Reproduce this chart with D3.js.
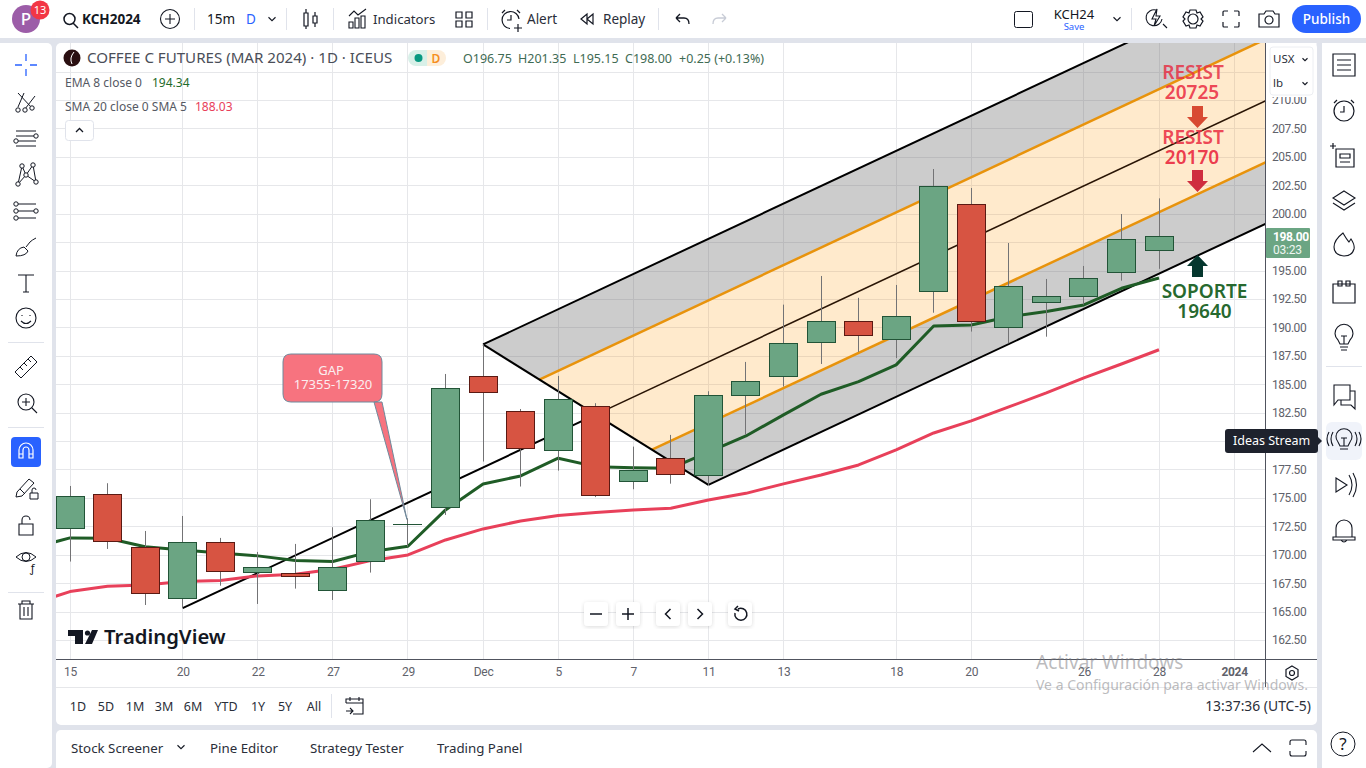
<!DOCTYPE html>
<html lang="en">

<head>
	<meta charset="utf-8">
	<title>KCH2024 - Coffee C Futures</title>
	<script src="https://cdn.jsdelivr.net/npm/d3@7"></script>
	<style>
		html, body { margin: 0; padding: 0; background: #e0e3eb; overflow: hidden; }
		text { font-family: "Noto Sans", sans-serif; }
	</style>
</head>

<body>
	<script type="text/javascript">

		// Daily candles
		const openP = [172.33, 175.32, 170.66, 166.18, 171.1, 168.55, 168.37, 166.96, 169.43, 172.68, 174.19, 185.73, 182.62, 179.2, 183.06, 176.47, 178.49, 177.0, 184.03, 185.71, 188.74, 190.56, 188.98, 193.14, 200.83, 190.0, 192.2, 192.7, 194.85, 196.75];
		const highP = [176.05, 176.29, 172.09, 173.41, 171.48, 170.25, 170.95, 172.42, 174.88, 173.2, 185.9, 188.5, 182.82, 185.73, 183.33, 179.51, 180.54, 184.38, 186.96, 192.0, 194.52, 192.6, 193.73, 203.93, 202.26, 197.42, 194.26, 195.4, 199.97, 201.35];
		const lowP = [169.4, 170.51, 165.58, 165.32, 167.28, 165.67, 167.02, 166.02, 168.43, 170.72, 173.5, 178.2, 176.0, 177.4, 175.07, 175.76, 176.25, 176.14, 180.54, 184.8, 186.78, 187.84, 187.3, 191.29, 189.63, 188.6, 189.18, 192.0, 194.11, 195.15];
		const closeP = [175.15, 171.15, 166.62, 171.1, 168.55, 168.95, 168.08, 168.95, 173.03, 172.68, 184.64, 184.3, 179.38, 183.68, 175.24, 177.43, 177.09, 184.03, 185.26, 188.6, 190.56, 189.33, 191.0, 202.41, 190.5, 193.61, 192.74, 194.32, 197.75, 198.0];

		// Moving averages, the first value belongs to the day before the left edge
		const ema8 = [170.6, 171.48, 171.45, 170.7, 170.42, 170.15, 169.9, 169.5, 169.4, 170.27, 170.75, 173.94, 176.23, 176.93, 178.49, 177.75, 177.66, 177.6, 179.02, 180.45, 182.3, 184.12, 185.23, 186.7, 190.12, 190.21, 190.94, 191.39, 191.97, 193.44, 194.34];
		const sma20 = [165.7, 166.76, 167.23, 167.34, 167.64, 167.73, 168.14, 168.29, 168.72, 169.48, 169.98, 171.3, 172.27, 172.97, 173.46, 173.71, 173.94, 174.09, 174.82, 175.4, 176.23, 177.02, 177.9, 179.22, 180.71, 181.77, 183.0, 184.23, 185.55, 186.78, 188.03];

		// Pitchfork anchors: day index and price
		const forkIdx = [3, 11, 17];
		const forkPrice = [165.3, 188.5, 176.15];
		const forkLevels = [0, 0.25, 0.5, 0.75, 1];

		const priceTicks = [162.5, 165, 167.5, 170, 172.5, 175, 177.5, 180, 182.5, 185, 187.5, 190, 192.5, 195, 197.5, 200, 202.5, 205, 207.5, 210, 212.5];
		// 180.00 sits under the tooltip and 197.50 under the price tag, 212.50 under the unit box
		const priceLabels = [162.5, 165, 167.5, 170, 172.5, 175, 177.5, 182.5, 185, 187.5, 190, 192.5, 195, 200, 202.5, 205, 207.5, 210];
		const dateIdx = [0, 3, 5, 7, 9, 11, 13, 15, 17, 19, 22, 24, 27, 29, 31];
		const dateLabels = ["15", "20", "22", "27", "29", "Dec", "5", "7", "11", "13", "18", "20", "26", "28", "2024"];

		const rangeButtons = ["1D", "5D", "1M", "3M", "6M", "YTD", "1Y", "5Y", "All"];
		const rangeX = [78, 106, 135, 164, 193, 226, 258, 285, 314];
		const ohlcLabels = ["O196.75", "H201.35", "L195.15", "C198.00", "+0.25 (+0.13%)"];
		const ohlcX = [463, 518, 573, 625, 679];
		const panelTabs = ["Stock Screener", "Pine Editor", "Strategy Tester", "Trading Panel"];
		const panelX = [71, 210, 310, 437];

		const ink = "#131722";
		const w = 1366;
		const h = 768;

		const svg = d3.select("body").append("svg")
			.attr("width", w)
			.attr("height", h)
			.style("display", "block");

		const x = d3.scaleLinear().domain([0, 29]).range([70, 1159]);
		const y = d3.scaleLinear().domain([162.5, 210]).range([640, 100]);
		const xSnap = i => Math.floor(x(i));

		// Panels
		function panel(px, py, pw, ph, r) {
			svg.append("rect").attr("x", px).attr("y", py).attr("width", pw).attr("height", ph)
				.attr("rx", r || 0).attr("fill", "#fff");
		}
		panel(0, 0, w, 38);
		panel(-6, 43, 58, 725, 5);
		panel(56, 43, 1261, 682, 5);
		panel(56, 730, 1261, 44, 5);
		panel(1322, 43, 50, 725);

		// Plot area
		svg.append("clipPath").attr("id", "plot").append("rect")
			.attr("x", 56).attr("y", 43).attr("width", 1210).attr("height", 616);
		const plot = svg.append("g").attr("clip-path", "url(#plot)");

		// Grid
		plot.selectAll("line.hgrid").data(priceTicks).enter().append("line")
			.attr("class", "hgrid")
			.attr("x1", 56).attr("x2", 1266)
			.attr("y1", d => Math.round(y(d)) + 0.5).attr("y2", d => Math.round(y(d)) + 0.5)
			.attr("stroke", "#e6e7ea");
		plot.selectAll("line.vgrid").data(dateIdx).enter().append("line")
			.attr("class", "vgrid")
			.attr("x1", d => xSnap(d) + 0.5).attr("x2", d => xSnap(d) + 0.5)
			.attr("y1", 43).attr("y2", 659)
			.attr("stroke", "#e6e7ea");

		// Pitchfork
		const midIdx = (forkIdx[1] + forkIdx[2]) / 2;
		const midPrice = (forkPrice[1] + forkPrice[2]) / 2;
		const forkSlope = (midPrice - forkPrice[0]) / (midIdx - forkIdx[0]);
		const farIdx = 42;
		const forkStart = forkLevels.map(t => [
			forkIdx[1] + (forkIdx[2] - forkIdx[1]) * t,
			forkPrice[1] + (forkPrice[2] - forkPrice[1]) * t
		]);
		const forkEnd = forkStart.map(p => [farIdx, p[1] + forkSlope * (farIdx - p[0])]);
		const toPx = p => [x(p[0]), y(p[1])];
		const bandFill = ["rgba(90,90,90,0.31)", "rgba(255,152,0,0.2)", "rgba(255,152,0,0.2)", "rgba(90,90,90,0.31)"];

		d3.range(4).forEach(i => {
			plot.append("polygon")
				.attr("points", [forkStart[i], forkEnd[i], forkEnd[i + 1], forkStart[i + 1]].map(toPx).join(" "))
				.attr("fill", bandFill[i]);
		});

		const segment = d3.line().x(d => x(d[0])).y(d => y(d[1]));
		const forkColor = ["#000", "#e8930c", "#2a1505", "#e8930c", "#000"];
		const forkWidth = [2, 2.5, 1.6, 2.5, 2];
		forkLevels.forEach((t, i) => {
			plot.append("path").attr("d", segment([forkStart[i], forkEnd[i]]))
				.attr("fill", "none").attr("stroke", forkColor[i]).attr("stroke-width", forkWidth[i]);
		});
		plot.append("path").attr("d", segment([[forkIdx[0], forkPrice[0]], forkStart[2]]))
			.attr("fill", "none").attr("stroke", "#000").attr("stroke-width", 2);
		plot.append("path").attr("d", segment([forkStart[0], forkStart[4]]))
			.attr("fill", "none").attr("stroke", "#000").attr("stroke-width", 2);

		// Moving averages
		const maLine = d3.line().x((d, i) => x(i - 1)).y(d => y(d));
		plot.append("path").attr("d", maLine(sma20))
			.attr("fill", "none").attr("stroke", "#e8405a").attr("stroke-width", 3).attr("stroke-linejoin", "round");
		plot.append("path").attr("d", maLine(ema8))
			.attr("fill", "none").attr("stroke", "#1f5c26").attr("stroke-width", 3).attr("stroke-linejoin", "round");

		// Candles
		const candles = openP.map((o, i) => ({ i: i, o: o, h: highP[i], l: lowP[i], c: closeP[i] }));
		const isUp = d => d.c >= d.o;

		plot.selectAll("line.wick").data(candles).enter().append("line")
			.attr("class", "wick")
			.attr("x1", d => xSnap(d.i) + 0.5).attr("x2", d => xSnap(d.i) + 0.5)
			.attr("y1", d => y(d.h)).attr("y2", d => y(d.l))
			.attr("stroke", "#737375");

		plot.selectAll("rect.body").data(candles.filter(d => d.o !== d.c)).enter().append("rect")
			.attr("class", "body")
			.attr("x", d => xSnap(d.i) - 13.5)
			.attr("width", 28)
			.attr("y", d => Math.round(y(Math.max(d.o, d.c))) + 0.5)
			.attr("height", d => Math.max(2, Math.round(y(Math.min(d.o, d.c)) - y(Math.max(d.o, d.c)))))
			.attr("fill", d => isUp(d) ? "#6ba583" : "#d75442")
			.attr("stroke", d => isUp(d) ? "#225437" : "#5b1a13")
			.attr("stroke-width", 1);

		// Doji with no body
		plot.selectAll("line.doji").data(candles.filter(d => d.o === d.c)).enter().append("line")
			.attr("class", "doji")
			.attr("x1", d => xSnap(d.i) - 14).attr("x2", d => xSnap(d.i) + 15)
			.attr("y1", d => Math.round(y(d.c)) + 0.5).attr("y2", d => Math.round(y(d.c)) + 0.5)
			.attr("stroke", "#225437");

		// GAP callout
		const gapTip = [x(9) - 1, y(173.1)];
		svg.append("path")
			.attr("d", `M291,354 H374 Q382,354 382,362 V394 Q382,402 374,402 L382,402 L${gapTip[0]},${gapTip[1]} L374,402 H291 Q283,402 283,394 V362 Q283,354 291,354 Z`)
			.attr("fill", "#f7737f").attr("stroke", "#6f8a9c").attr("stroke-width", 1);
		svg.append("text").attr("x", 331).attr("y", 375).attr("text-anchor", "middle")
			.attr("font-size", 13).attr("fill", "#fbeef0").text("GAP");
		svg.append("text").attr("x", 333).attr("y", 389).attr("text-anchor", "middle")
			.attr("font-size", 13).attr("fill", "#fbeef0").text("17355-17320");

		// Resistance and support notes
		function note(tx, ty, txt, color) {
			svg.append("text").attr("x", tx).attr("y", ty).attr("text-anchor", "middle")
				.attr("font-size", 19).attr("font-weight", 600).attr("fill", color).text(txt);
		}
		note(1193, 79, "RESIST", "rgba(230,50,70,0.86)");
		note(1192, 99, "20725", "rgba(235,50,70,0.9)");
		note(1193, 144, "RESIST", "rgba(235,50,70,0.9)");
		note(1192, 164, "20170", "rgba(235,50,70,0.95)");
		note(1204.5, 298, "SOPORTE", "#27692f");
		note(1204.5, 318, "19640", "#27692f");

		function arrow(cx, tipY, dir, color) {
			const len = 22, head = 11;
			svg.append("path")
				.attr("d", `M${cx},${tipY} L${cx + 10.5},${tipY - dir * head} H${cx + 5.5} V${tipY - dir * len} H${cx - 5.5} V${tipY - dir * head} H${cx - 10.5} Z`)
				.attr("fill", color);
		}
		arrow(1197.5, 128, 1, "#d84a32");
		arrow(1197.5, 192, 1, "#cf2e3f");
		arrow(1197.5, 255, -1, "#05372e");

		// TradingView logo
		svg.append("path").attr("d", "M68,630 H83 V644 H75 V636 H68 Z M92,630 H98 L92,644 H85 Z").attr("fill", ink);
		svg.append("circle").attr("cx", 87.5).attr("cy", 633).attr("r", 2.6).attr("fill", ink);
		svg.append("text").attr("x", 104).attr("y", 644).attr("font-size", 20.3).attr("font-weight", 600).attr("fill", ink).text("TradingView");

		// Zoom buttons under the plot
		const navX = [596, 628, 668, 700, 740];
		const navIcon = ["M-6,0 H6", "M-6,0 H6 M0,-6 V6", "M2.5,-5 L-2.5,0 L2.5,5", "M-2.5,-5 L2.5,0 L-2.5,5", "M-2,-6 A6,6 0 1 1 -5,-2 M-2,-9 L-5,-6 L-1,-4"];
		svg.append("filter").attr("id", "soft").append("feDropShadow")
			.attr("dx", 0).attr("dy", 1).attr("stdDeviation", 2).attr("flood-opacity", 0.14);
		navX.forEach((nx, i) => {
			svg.append("rect").attr("x", nx - 12).attr("y", 602).attr("width", 24).attr("height", 24).attr("rx", 4)
				.attr("fill", "#fff").attr("filter", "url(#soft)");
			svg.append("path").attr("d", navIcon[i]).attr("transform", `translate(${nx},${i === 4 ? 615 : 614})`)
				.attr("fill", "none").attr("stroke", ink).attr("stroke-width", 1.5);
		});

		// Price axis
		const yAxis = svg.append("g").attr("transform", "translate(1265.5,0)")
			.call(d3.axisRight(y).tickValues(priceLabels).tickFormat(d3.format(".2f")).tickSize(0).tickPadding(6.5));
		yAxis.select(".domain").remove();
		yAxis.selectAll("text").attr("font-size", 12).attr("fill", "#5f626b")
			.style("font-family", "Roboto").style("letter-spacing", "-0.45px");
		svg.append("line").attr("x1", 1265.5).attr("x2", 1265.5).attr("y1", 43).attr("y2", 687).attr("stroke", "#50535e");
		svg.append("line").attr("x1", 56).attr("x2", 1317).attr("y1", 659.5).attr("y2", 659.5).attr("stroke", "#50535e");

		// Time axis
		const xAxis = svg.append("g").attr("transform", "translate(0,659)")
			.call(d3.axisBottom(x).tickValues(dateIdx).tickFormat(d => dateLabels[dateIdx.indexOf(d)]).tickSize(0).tickPadding(8));
		xAxis.select(".domain").remove();
		xAxis.selectAll("text").attr("font-size", 12).attr("fill", "#5f626b")
			.style("font-family", "Roboto").style("letter-spacing", "-0.3px")
			.attr("font-weight", d => d === 31 ? 700 : 400);

		// Last price tag
		svg.append("rect").attr("x", 1266).attr("y", 228).attr("width", 44).attr("height", 30).attr("rx", 1).attr("fill", "#6ba583");
		svg.append("text").attr("x", 1273).attr("y", 241).attr("font-size", 12).attr("font-weight", 700).attr("fill", "#fff")
			.style("font-family", "Roboto").style("letter-spacing", "-0.35px").text(closeP[29].toFixed(2));
		svg.append("text").attr("x", 1273).attr("y", 254).attr("font-size", 12).attr("fill", "#eef6f1")
			.style("font-family", "Roboto").style("letter-spacing", "-0.2px").text("03:23");

		// Unit box over the axis, it cuts the top of the 210.00 label
		svg.append("rect").attr("x", 1266.5).attr("y", 43).attr("width", 50).attr("height", 54).attr("fill", "#fff");
		svg.append("rect").attr("x", 1270).attr("y", 47).attr("width", 43).attr("height", 48).attr("rx", 3)
			.attr("fill", "#fff").attr("stroke", "#eceef2");
		svg.append("text").attr("x", 1273).attr("y", 63).attr("font-size", 11.5).attr("fill", "#2a2e39").text("USX");
		svg.append("text").attr("x", 1273).attr("y", 87).attr("font-size", 11.5).attr("fill", "#2a2e39").text("lb");
		function chevron(cx, cy, s, color) {
			svg.append("path").attr("d", `M${cx - s},${cy - s / 2} L${cx},${cy + s / 2} L${cx + s},${cy - s / 2}`)
				.attr("fill", "none").attr("stroke", color || ink).attr("stroke-width", 1.1);
		}
		chevron(1305, 59.5, 2.5);
		chevron(1305, 83.5, 2.5);

		// Chart legend
		svg.append("circle").attr("cx", 72).attr("cy", 58).attr("r", 8.5).attr("fill", "#2a0f11");
		svg.append("path").attr("d", "M74,52 Q69,58 72,64").attr("fill", "none").attr("stroke", "#fff").attr("stroke-width", 1);
		svg.append("text").attr("x", 87).attr("y", 63).attr("font-size", 15.1).attr("fill", "#4a4e58")
			.text("COFFEE C FUTURES (MAR 2024) · 1D · ICEUS");
		svg.append("path").attr("d", "M427,50 H416 A8,8 0 0 0 416,66 H427 Z").attr("fill", "#d8f0e8");
		svg.append("path").attr("d", "M427,50 H438 A8,8 0 0 1 438,66 H427 Z").attr("fill", "#fdeeda");
		svg.append("circle").attr("cx", 418.5).attr("cy", 58).attr("r", 4).attr("fill", "#089981");
		svg.append("text").attr("x", 436).attr("y", 63).attr("text-anchor", "middle").attr("font-size", 12).attr("font-weight", 600).attr("fill", "#f58e1f").text("D");
		ohlcLabels.forEach((t, i) => {
			svg.append("text").attr("x", ohlcX[i]).attr("y", 63).attr("font-size", 12.5).attr("fill", "#3f6b54").text(t);
		});

		svg.append("text").attr("x", 65).attr("y", 87).attr("font-size", 12).attr("fill", "#555963").text("EMA 8 close 0");
		svg.append("text").attr("x", 152).attr("y", 87).attr("font-size", 12).attr("fill", "#1f6b2a").text(ema8[30].toFixed(2));
		svg.append("text").attr("x", 65).attr("y", 111).attr("font-size", 12).attr("fill", "#555963").text("SMA 20 close 0 SMA 5");
		svg.append("text").attr("x", 195).attr("y", 111).attr("font-size", 12).attr("fill", "#e8405a").text(sma20[30].toFixed(2));
		svg.append("rect").attr("x", 65.5).attr("y", 120.5).attr("width", 28).attr("height", 20).attr("rx", 3).attr("fill", "#fff").attr("stroke", "#e0e3eb");
		svg.append("path").attr("d", "M76,132 L79.5,128.5 L83,132").attr("fill", "none").attr("stroke", ink).attr("stroke-width", 1.3);

		// Top bar
		function label(tx, ty, txt, size, color, weight, anchor) {
			return svg.append("text").attr("x", tx).attr("y", ty).attr("font-size", size).attr("fill", color || ink)
				.attr("font-weight", weight || 400).attr("text-anchor", anchor || "start").text(txt);
		}
		function icon(tx, ty, d, sw, color) {
			return svg.append("path").attr("d", d).attr("transform", `translate(${tx},${ty})`)
				.attr("fill", "none").attr("stroke", color || ink).attr("stroke-width", sw || 1);
		}
		function nodes(tx, ty, pts) {
			pts.forEach(p => {
				svg.append("circle").attr("cx", tx + p[0]).attr("cy", ty + p[1]).attr("r", 2.2)
					.attr("fill", "#fff").attr("stroke", ink);
			});
		}
		function sep(x1, y1, x2, y2) {
			svg.append("line").attr("x1", x1).attr("y1", y1).attr("x2", x2).attr("y2", y2).attr("stroke", "#e0e3eb");
		}

		svg.append("circle").attr("cx", 26).attr("cy", 19).attr("r", 14).attr("fill", "#9c5da8");
		label(26, 25, "P", 17, "#fff", 500, "middle");
		svg.append("circle").attr("cx", 40).attr("cy", 10).attr("r", 9.5).attr("fill", "#f23645");
		label(40, 14, "13", 11, "#fff", 400, "middle");

		icon(70, 19, "M5,0 A5.5,5.5 0 1 1 -6,0 A5.5,5.5 0 1 1 5,0 M3,4 L8,9", 1.5);
		label(82, 24, "KCH2024", 13.5, ink, 700);
		icon(170, 19, "M9.5,0 A9.5,9.5 0 1 1 -9.5,0 A9.5,9.5 0 1 1 9.5,0 M-5,0 H5 M0,-5 V5", 1.1);
		sep(194.5, 8, 194.5, 30);
		label(207, 24, "15m", 13.5, ink);
		label(246, 24, "D", 13.5, "#2962ff", 400);
		chevron(272, 19, 3.5);
		sep(286.5, 8, 286.5, 30);
		icon(310, 19, "M-6,-6 H-2 V7 H-6 Z M-4,-10 V-6 M-4,7 V10 M3,-3 H7 V4 H3 Z M5,-7 V-3 M5,4 V8", 1.2);
		sep(333.5, 8, 333.5, 30);
		icon(358, 19, "M-9,9 V3 H-5 V9 Z M-3,9 V-1 H1 V9 Z M3,9 V-3 H7 V9 Z M-9,-3 L-4,-8 L0,-4 L8,-10", 1.1);
		label(373, 24, "Indicators", 13.2, "#2a2e39");
		icon(456, 11, "M0,1 h6 v6 h-6 Z M10,1 h6 v6 h-6 Z M0,10 h6 v6 h-6 Z M10,10 h6 v6 h-6 Z", 1.2);
		sep(487.5, 8, 487.5, 30);
		icon(511, 20, "M8,-1 A8.5,8.5 0 1 0 -1,8.5 M0,-5 V0 H-4 M-9,-7 L-6,-10 M9,-7 L6,-10 M7,4 V12 M3,8 H11", 1.2);
		label(527, 24, "Alert", 13.5, "#2a2e39");
		icon(587, 19, "M-6,0 L0,-5 V5 Z M-0,0 L6,-5 V5 Z", 1.2);
		label(603, 24, "Replay", 13.5, "#2a2e39");
		sep(658.5, 8, 658.5, 30);
		icon(682, 19, "M-6,-1 H2 Q7,-1 7,5 M-6,-1 L-2,-5 M-6,-1 L-2,3", 1.3);
		icon(720, 19, "M6,-1 H-2 Q-7,-1 -7,5 M6,-1 L2,-5 M6,-1 L2,3", 1.3, "#c8ccd6");

		svg.append("rect").attr("x", 1014.5).attr("y", 11.5).attr("width", 18).attr("height", 16).attr("rx", 2).attr("fill", "none").attr("stroke", ink);
		label(1074, 19, "KCH24", 13, ink, 400, "middle");
		label(1074, 30, "Save", 9.5, "#2962ff", 400, "middle");
		chevron(1117, 19, 3.5);
		sep(1131.5, 8, 1131.5, 30);
		icon(1155, 18, "M1,-8 A8,8 0 1 0 7,1 M8,6 L12,10 M2,-9 L-3,1 H1 L-1,8 L5,-2 H1 Z", 1.1);
		icon(1193, 19, "M5,0 A5,5 0 1 1 -5,0 A5,5 0 1 1 5,0", 1.2);
		icon(1193, 19, "M-3,-9 H3 L4,-6 L7,-7 L10,-2 L8,0 L10,2 L7,7 L4,6 L3,9 H-3 L-4,6 L-7,7 L-10,2 L-8,0 L-10,-2 L-7,-7 L-4,-6 Z", 1.2);
		icon(1231, 19, "M-8,-3 V-7 Q-8,-8 -7,-8 H-3 M3,-8 H7 Q8,-8 8,-7 V-3 M8,3 V7 Q8,8 7,8 H3 M-3,8 H-7 Q-8,8 -8,7 V3", 1.2);
		icon(1269, 19, "M-10,-5 H-5 L-3,-8 H4 L6,-5 H10 V8 H-10 Z M4,1 A4,4 0 1 1 -4,1 A4,4 0 1 1 4,1", 1.2);
		svg.append("rect").attr("x", 1292).attr("y", 5).attr("width", 69).attr("height", 28).attr("rx", 14).attr("fill", "#2962ff");
		label(1326.5, 24, "Publish", 13.5, "#fff", 500, "middle");

		// Left toolbar
		icon(26, 65, "M-11,0 H-4 M4,0 H11 M0,-11 V-4 M0,4 V11", 1.3, "#2962ff");
		icon(26, 102, "M-8,-9 L6,6 M-2,-9 L-8,5 M9,-6 L-1,7", 1);
		nodes(26, 102, [[-8, 8], [-1, 8], [6, 6]]);
		icon(26, 138, "M-10,-7 H10 M-10,-2 H8 M-8,3 H10 M-10,8 H10", 1);
		nodes(26, 138, [[10, -2], [-10, 3]]);
		icon(26, 174, "M-8,10 L-4,-8 L0,1 L7,-9 L10,8 L0,1 Z", 1);
		nodes(26, 174, [[-8, 10], [-4, -8], [0, 1], [7, -9], [10, 8]]);
		icon(26, 211, "M-8,-7 H10 M-8,0 H10 M-8,7 H10", 1);
		nodes(26, 211, [[-10, -7], [-10, 0], [-10, 7], [10, 0]]);
		icon(26, 247, "M-10,9 Q-9,1 -2,0 L2,4 Q0,9 -10,9 Z M0,0 L4,-5 Q6,-7 10,-9", 1);
		icon(26, 283, "M-8,-8 H8 M0,-8 V9 M-3,9 H3", 1.1);
		icon(26, 318, "M10,0 A10,10 0 1 1 -10,0 A10,10 0 1 1 10,0 M-5,3 Q0,8 5,3 M-4,-3 v1 M4,-3 v1", 1.1);
		sep(8, 342.5, 44, 342.5);
		icon(26, 367, "M-11,5 L5,-11 L11,-5 L-5,11 Z M-6,0 L-3,3 M-2,-4 L1,-1 M2,-8 L5,-5", 1);
		icon(26, 403, "M8,-1 A8,8 0 1 1 -8,-1 A8,8 0 1 1 8,-1 M6,5 L11,10 M-4,-1 H4 M0,-5 V3", 1.1);
		sep(8, 427.5, 44, 427.5);
		svg.append("rect").attr("x", 11).attr("y", 437).attr("width", 30).attr("height", 30).attr("rx", 4).attr("fill", "#2962ff");
		icon(26, 452, "M-7,6 V-2 A7,7 0 0 1 7,-2 V6 H3 V-2 A3,3 0 0 0 -3,-2 V6 Z M-7,2 H-3 M3,2 H7", 1.2, "#fff");
		icon(26, 487, "M-9,5 L3,-8 L8,-4 L-4,9 L-10,10 Z M-6,2 L-1,7", 1);
		icon(30, 493, "M0,0 h8 v6 h-8 Z M2,0 v-3 a2,2 0 0 1 4,0", 1);
		icon(26, 526, "M-7,-2 H7 V9 H-7 Z M-4,-2 V-6 A4,4 0 0 1 4,-6", 1.1);
		icon(26, 557, "M-10,0 Q0,-9 10,0 Q0,9 -10,0 Z M4,0 A4,4 0 1 1 -4,0 A4,4 0 1 1 4,0", 1);
		label(30, 572, "ƒ", 11, ink, 400);
		sep(8, 592.5, 44, 592.5);
		icon(26, 610, "M-8,-6 H8 M-4,-6 V-9 H4 V-6 M-6,-6 V9 H6 V-6 M-2,-3 V6 M2,-3 V6", 1.1);

		// Right toolbar
		icon(1344, 65, "M-11,-11 H11 V11 H-11 Z M-7,-5 H7 M-7,0 H7 M-7,5 H7", 1.2);
		icon(1344, 111, "M10,0 A10,10 0 1 1 -10,0 A10,10 0 1 1 10,0 M0,-5 V1 H-4 M-10,-8 L-7,-11 M10,-8 L7,-11", 1.2);
		icon(1344, 156, "M-8,-7 H10 V11 H-8 Z M-4,-2 H6 V2 H-4 Z M-4,6 H6 M-14,-10 H-8 M-11,-13 V-7", 1.2);
		icon(1344, 200, "M0,-9 L11,-2 L0,5 L-11,-2 Z M-11,3 L0,10 L11,3", 1.1);
		icon(1344, 245, "M-1,-12 Q3,-5 5,-3 L7,-6 Q11,0 10,4 Q8,11 0,11 Q-10,10 -10,2 Q-10,-5 -1,-12 Z", 1.1);
		icon(1344, 292, "M-11,-8 H11 V11 H-11 Z M-6,-11 H-2 V-6 H-6 Z M2,-11 H6 V-6 H2 Z", 1.2);
		icon(1344, 337, "M6,3 A9,9 0 1 0 -6,3 L-4,7 H4 Z M-3,-1 H3 M0,-1 V7 M-4,10 H4 M-3,13 H3", 1.1);
		sep(1326, 366.5, 1362, 366.5);
		icon(1344, 396, "M-10,-11 H6 V4 H-6 L-10,9 Z M6,-5 H11 V13 L7,9 H-3 V4", 1.1);
		svg.append("rect").attr("x", 1326).attr("y", 422).attr("width", 36).attr("height", 38).attr("rx", 6).attr("fill", "#f0f3fa");
		icon(1344, 439, "M6,3 A8,8 0 1 0 -6,3 L-4,7 H4 Z M-3,-1 H3 M0,-1 V7 M-4,10 H4 M-11,-7 Q-15,0 -11,7 M11,-7 Q15,0 11,7 M-15,-7 Q-19,0 -15,7 M15,-7 Q19,0 15,7", 1.1);
		icon(1344, 485, "M-8,-7 L3,0 L-8,7 Z M5,-10 Q11,0 5,10 M9,-12 Q16,0 9,12", 1.1);
		icon(1344, 530, "M-8,7 V-2 A8,8 0 0 1 8,-2 V7 M-11,7 H11 V10 H-11 Z M-3,10 Q0,14 3,10", 1.1);
		icon(1343, 744, "M12,0 A12,12 0 1 1 -12,0 A12,12 0 1 1 12,0", 1);
		label(1343, 750, "?", 17, ink, 400, "middle");

		// Ideas Stream tooltip
		svg.append("path").attr("d", "M1228,429 H1315 Q1318,429 1318,432 V437 L1322,441 L1318,445 V450 Q1318,453 1315,453 H1228 Q1225,453 1225,450 V432 Q1225,429 1228,429 Z").attr("fill", "#1e222d");
		label(1233, 445, "Ideas Stream", 12.5, "#fff");

		// Range row
		svg.append("line").attr("x1", 56).attr("x2", 1317).attr("y1", 687.5).attr("y2", 687.5).attr("stroke", "#e6e7ea");
		rangeButtons.forEach((t, i) => label(rangeX[i], 711, t, 12.5, "#2a2e39", 400, "middle"));
		sep(331.5, 694, 331.5, 718);
		icon(355, 706, "M-9,-3 V-7 H8 V8 H-2 M-9,-3 H8 M-5,-9 V-5 M4,-9 V-5 M-9,5 H-2 M-5,2 L-2,5 L-5,8", 1.1);
		label(1311, 711, "13:37:36 (UTC-5)", 13.9, "#2a2e39", 400, "end");
		icon(1292, 673, "M0,-7 L6,-3.5 V3.5 L0,7 L-6,3.5 V-3.5 Z M2.5,0 A2.5,2.5 0 1 1 -2.5,0 A2.5,2.5 0 1 1 2.5,0", 1.2);

		// Bottom tabs
		panelTabs.forEach((t, i) => label(panelX[i], 753, t, 13.3, "#2a2e39"));
		chevron(181, 747, 3.5);
		icon(1262, 748, "M-9,4 L0,-4 L9,4", 1.1);
		icon(1298, 748, "M-8,-3 V-6 Q-8,-8 -6,-8 H6 Q8,-8 8,-6 V-3 M-8,3 V6 Q-8,8 -6,8 H6 Q8,8 8,6 V3", 1.1);

		// Windows watermark
		label(1036, 669, "Activar Windows", 19, "rgba(120,120,125,0.5)");
		label(1036, 690, "Ve a Configuración para activar Windows.", 14, "rgba(120,120,125,0.5)");

	</script>
</body>

</html>
